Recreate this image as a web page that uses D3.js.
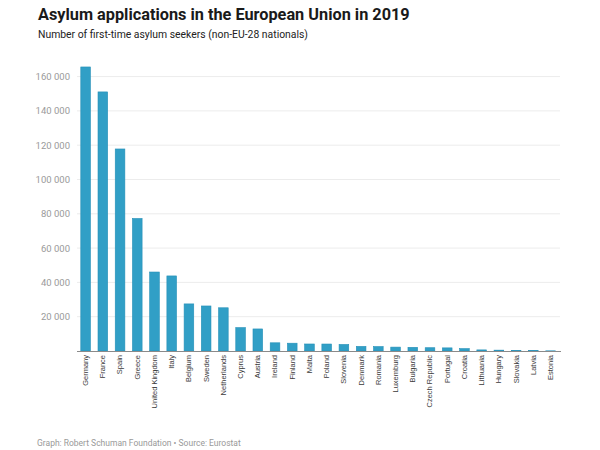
<!DOCTYPE html>
<html><head><meta charset="utf-8">
<script src="https://cdn.jsdelivr.net/npm/d3@7"></script>
<style>
body{margin:0;background:#fff;}
svg{display:block;}
</style></head>
<body>
<svg id="chart" width="600" height="450"></svg>
<script>
const countries = ["Germany","France","Spain","Greece","United Kingdom","Italy","Belgium","Sweden","Netherlands","Cyprus","Austria","Ireland","Finland","Malta","Poland","Slovenia","Denmark","Romania","Luxemburg","Bulgaria","Czech Republic","Portugal","Croatia","Lithuania","Hungary","Slovakia","Latvia","Estonia"];
const applications = [165615,151070,117800,77275,46055,43770,27460,26255,25200,13650,12860,4780,4550,4090,4070,3820,2690,2590,2270,2150,1915,1820,1400,645,500,230,195,105];
const yTicks = [20000,40000,60000,80000,100000,120000,140000,160000];
const title = "Asylum applications in the European Union in 2019";
const subtitle = "Number of first-time asylum seekers (non-EU-28 nationals)";
const footer = "Graph: Robert Schuman Foundation \u2022 Source: Eurostat";

(function(){
const svg = d3.select("#chart");
const pLeft = 77, pRight = 560, pBottom = 351;
const data = countries.map((c,i)=>({c, v: applications[i]}));

const x = d3.scaleBand().domain(countries).range([pLeft, pLeft + 28*17.22]).paddingInner(0.44).paddingOuter(0.22);
const y = d3.scaleLinear().domain([0,160000]).range([pBottom, pBottom - 8*34.3]);

svg.append("g").selectAll("line").data(yTicks).join("line")
  .attr("x1", pLeft).attr("x2", pRight)
  .attr("y1", d=>y(d)).attr("y2", d=>y(d))
  .attr("stroke", "#ececec").attr("stroke-width", 1);

const yAxis = d3.axisLeft(y).tickValues(yTicks).tickSize(0).tickPadding(0).tickFormat(d=>d3.format(",")(d).replace(/,/g," "));
const yg = svg.append("g").attr("transform", "translate(70,0)").call(yAxis);
yg.select(".domain").remove();
yg.selectAll("text").attr("fill","#9a9a9a").attr("font-family","Roboto, 'Liberation Sans', sans-serif").attr("font-size","9.5px");

svg.append("g").selectAll("rect").data(data).join("rect")
  .attr("x", d=>x(d.c)).attr("width", x.bandwidth())
  .attr("y", d=>y(d.v)).attr("height", d=>pBottom - y(d.v))
  .attr("fill", "#319fc6").attr("stroke","#2590b8").attr("stroke-width",0.6);

svg.append("line").attr("x1", pLeft).attr("x2", pRight+1).attr("y1", pBottom+0.5).attr("y2", pBottom+0.5)
  .attr("stroke","#8a8a8a").attr("stroke-width",1);

const xAxis = d3.axisBottom(x).tickSize(0).tickPadding(0);
const xg = svg.append("g").attr("transform", `translate(0,${pBottom})`).call(xAxis);
xg.select(".domain").remove();
xg.selectAll("text")
  .attr("transform","rotate(-90)")
  .attr("text-anchor","end")
  .attr("x",-4).attr("y",0).attr("dy","0.32em")
  .attr("fill","#3a3a3a").attr("font-family","'Liberation Sans', Arial, sans-serif").attr("font-size","7.5px");

svg.append("text").attr("x",38).attr("y",20).text(title)
  .attr("font-family","Roboto, sans-serif").attr("font-weight","700").attr("font-size","16.3px").attr("fill","#1a1a1a");
svg.append("text").attr("x",38).attr("y",38).text(subtitle)
  .attr("font-family","Roboto, sans-serif").attr("font-size","10.4px").attr("fill","#222");
svg.append("text").attr("x",37).attr("y",446).text(footer)
  .attr("font-family","Roboto, sans-serif").attr("font-size","8.5px").attr("fill","#999");
})();
</script>
</body></html>
